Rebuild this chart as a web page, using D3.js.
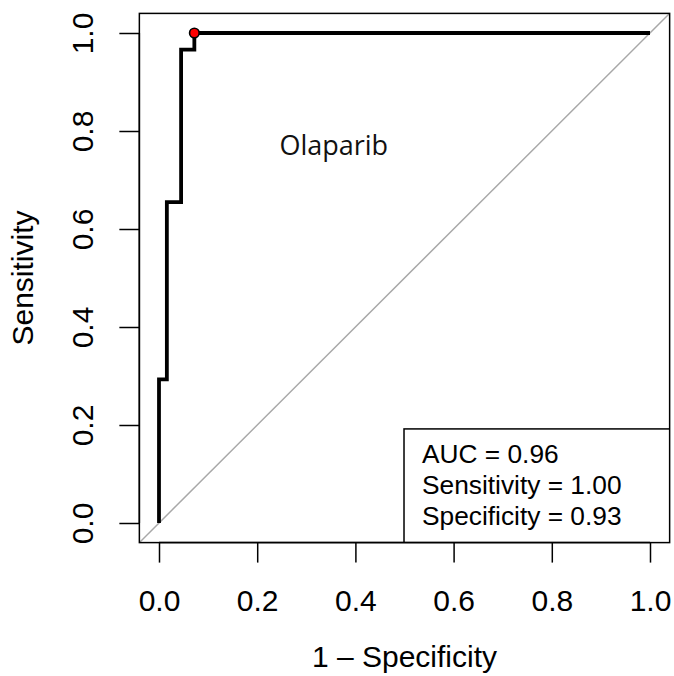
<!DOCTYPE html>
<html>
<head>
<meta charset="utf-8">
<script src="https://cdn.jsdelivr.net/npm/d3@7"></script>
<style>
  html, body { margin: 0; padding: 0; background: #fff; }
  svg { display: block; }
</style>
</head>
<body>
<svg id="chart" width="674" height="676"></svg>
<script>
// ROC curve corners (false positive rate, true positive rate)
const fpr = [0, 0, 0.016, 0.016, 0.045, 0.045, 0.072, 0.072, 1];
const tpr = [0, 0.293, 0.293, 0.655, 0.655, 0.966, 0.966, 1, 1];

// Best threshold point
const bestFpr = [0.072];
const bestTpr = [1.0];

const xTicks = [0, 0.2, 0.4, 0.6, 0.8, 1.0];
const yTicks = [0, 0.2, 0.4, 0.6, 0.8, 1.0];

const drugName = "Olaparib";
const legendLines = ["AUC = 0.96", "Sensitivity = 1.00", "Specificity = 0.93"];

(function draw() {
  const svg = d3.select("#chart");
  const sans = "'Liberation Sans', Arial, Helvetica, sans-serif";

  // R-style 4% padding around the [0,1] range
  const x = d3.scaleLinear().domain([-0.04, 1.04]).range([139.36, 669.64]);
  const y = d3.scaleLinear().domain([-0.04, 1.04]).range([542.6, 13.4]);

  const pL = x(-0.04), pR = x(1.04), pT = y(1.04), pB = y(-0.04);

  svg.append("defs").append("clipPath").attr("id", "plotClip")
    .append("rect")
    .attr("x", pL).attr("y", pT)
    .attr("width", pR - pL).attr("height", pB - pT);

  const plot = svg.append("g").attr("clip-path", "url(#plotClip)");

  // chance diagonal
  plot.append("line")
    .attr("x1", x(-0.04)).attr("y1", y(-0.04))
    .attr("x2", x(1.04)).attr("y2", y(1.04))
    .attr("stroke", "#a8a8a8").attr("stroke-width", 1.5);

  // ROC curve
  const pts = fpr.map((f, i) => [f, tpr[i]]);
  plot.append("path")
    .datum(pts)
    .attr("d", d3.line().x(d => x(d[0])).y(d => y(d[1])))
    .attr("fill", "none")
    .attr("stroke", "#000")
    .attr("stroke-width", 3.8)
    .attr("stroke-linejoin", "miter")
    .attr("stroke-linecap", "butt");

  // best threshold marker
  plot.selectAll("circle.best")
    .data(bestFpr.map((f, i) => [f, bestTpr[i]]))
    .join("circle")
    .attr("class", "best")
    .attr("cx", d => x(d[0])).attr("cy", d => y(d[1]))
    .attr("r", 4.8)
    .attr("fill", "#ff0000")
    .attr("stroke", "#000").attr("stroke-width", 1.6);

  // drug label
  plot.append("text")
    .attr("x", x(0.356)).attr("y", y(0.77))
    .attr("dy", "0.35em")
    .attr("text-anchor", "middle")
    .attr("font-family", "'Open Sans', 'Noto Sans', sans-serif")
    .attr("font-size", 27)
    .attr("fill", "#111")
    .text(drugName);

  // legend box (runs past the plot edge and is clipped)
  const lgX = x(0.499), lgY = y(0.192);
  plot.append("rect")
    .attr("x", lgX).attr("y", lgY)
    .attr("width", 300).attr("height", 200)
    .attr("fill", "#fff")
    .attr("stroke", "#000").attr("stroke-width", 1.5);

  plot.selectAll("text.legend")
    .data(legendLines)
    .join("text")
    .attr("class", "legend")
    .attr("x", lgX + 18)
    .attr("y", (d, i) => lgY + 34 + i * 30.8)
    .attr("font-family", sans)
    .attr("font-size", 26.3)
    .attr("fill", "#000")
    .text(d => d);

  // plot frame
  svg.append("rect")
    .attr("x", pL).attr("y", pT)
    .attr("width", pR - pL).attr("height", pB - pT)
    .attr("fill", "none")
    .attr("stroke", "#000").attr("stroke-width", 1.5);

  // x axis
  const xAxis = svg.append("g")
    .attr("transform", `translate(0,${pB})`)
    .call(d3.axisBottom(x).tickValues(xTicks).tickFormat(d3.format(".1f"))
      .tickSize(20).tickPadding(27).tickSizeOuter(0));
  xAxis.select(".domain").attr("stroke-width", 1.5).attr("d", `M${x(0)},0H${x(1)}`);
  xAxis.selectAll(".tick line").attr("stroke-width", 1.5);
  xAxis.selectAll(".tick text")
    .attr("font-family", sans).attr("font-size", 30).attr("fill", "#000");

  // y axis, labels parallel to the axis
  const yAxis = svg.append("g")
    .attr("transform", `translate(${pL},0)`)
    .call(d3.axisLeft(y).tickValues(yTicks).tickFormat(d3.format(".1f"))
      .tickSize(20).tickSizeOuter(0));
  yAxis.select(".domain").attr("stroke-width", 1.5).attr("d", `M0,${y(0)}V${y(1)}`);
  yAxis.selectAll(".tick line").attr("stroke-width", 1.5);
  yAxis.selectAll(".tick text")
    .attr("font-family", sans).attr("font-size", 30).attr("fill", "#000")
    .attr("transform", "rotate(-90)")
    .attr("text-anchor", "middle")
    .attr("x", 0).attr("y", -46).attr("dy", 0);

  // axis titles
  svg.append("text")
    .attr("x", (x(0) + x(1)) / 2).attr("y", 667)
    .attr("text-anchor", "middle")
    .attr("font-family", sans).attr("font-size", 30)
    .text("1 \u2013 Specificity");

  svg.append("text")
    .attr("transform", `translate(33,${(y(0) + y(1)) / 2}) rotate(-90)`)
    .attr("text-anchor", "middle")
    .attr("font-family", sans).attr("font-size", 30)
    .text("Sensitivity");
})();
</script>
</body>
</html>
